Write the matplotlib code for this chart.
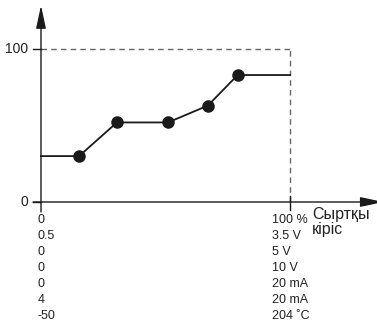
import matplotlib
matplotlib.use("Agg")
import matplotlib.pyplot as plt

plt.rcParams['font.family'] = ['Liberation Sans', 'DejaVu Sans']

# data
start_y = 30
point_x = [15.3, 30.5, 51, 67, 79]
point_y = [30, 52, 52, 63, 83]
end_y = 83
y_ticks = [0, 100]
left_labels = ["0", "0.5", "0", "0", "0", "4", "-50"]
right_labels = ["100 %", "3.5 V", "5 V", "10 V", "20 mA", "20 mA", "204 \u02daC"]
axis_title = "Сыртқы\nкіріс"

W, H = 377, 330
fig = plt.figure(figsize=(W / 100, H / 100), dpi=100)
ax = fig.add_axes([41 / W, 128 / H, 249 / W, 153 / H])
ax.set_xlim(0, 100)
ax.set_ylim(0, 100)
ax.axis('off')

col = '#1a1a1a'
astyle = '-|>,head_length=1.4,head_width=0.3'
# axes arrows
ax.annotate('', xy=(0, 128.5), xytext=(0, -6.5), xycoords='data',
            arrowprops=dict(arrowstyle=astyle, color=col, lw=1.0, shrinkA=0, shrinkB=0),
            annotation_clip=False)
ax.annotate('', xy=(137.5, 0), xytext=(-3.2, 0), xycoords='data',
            arrowprops=dict(arrowstyle=astyle, color=col, lw=1.0, shrinkA=0, shrinkB=0),
            annotation_clip=False)

# dashed frame
ax.plot([0, 100], [100, 100], ls=(0, (4, 3)), color='#666666', lw=1.0, clip_on=False)
ax.plot([100, 100], [0, 100], ls=(0, (4, 3)), color='#666666', lw=1.0, clip_on=False)

# ticks
for t in y_ticks:
    ax.plot([-3.2, 0], [t, t], color=col, lw=1.0, clip_on=False)
    ax.text(-5, t, str(t), ha='right', va='center', fontsize=10, color='#222222')
ax.plot([100, 100], [-5, 4], color=col, lw=1.0, clip_on=False)

# curve
xs = [0] + point_x + [100]
ys = [start_y] + point_y + [end_y]
ax.plot(xs, ys, color=col, lw=1.3, clip_on=False)
ax.plot(point_x, point_y, 'o', color=col, ms=8, clip_on=False)

# labels under axis
for i, (l, r) in enumerate(zip(left_labels, right_labels)):
    py = 220 + i * 16
    fy = 1 - py / H
    fig.text(38 / W, fy, l, ha='left', va='center', fontsize=9, color='#222222')
    fig.text(272 / W, fy, r, ha='left', va='center', fontsize=9, color='#222222')
fig.text(312 / W, 1 - 222 / H, axis_title, ha='left', va='center', fontsize=11.5,
         color='#222222', linespacing=1.0)

fig.savefig('out.png', dpi=100)
